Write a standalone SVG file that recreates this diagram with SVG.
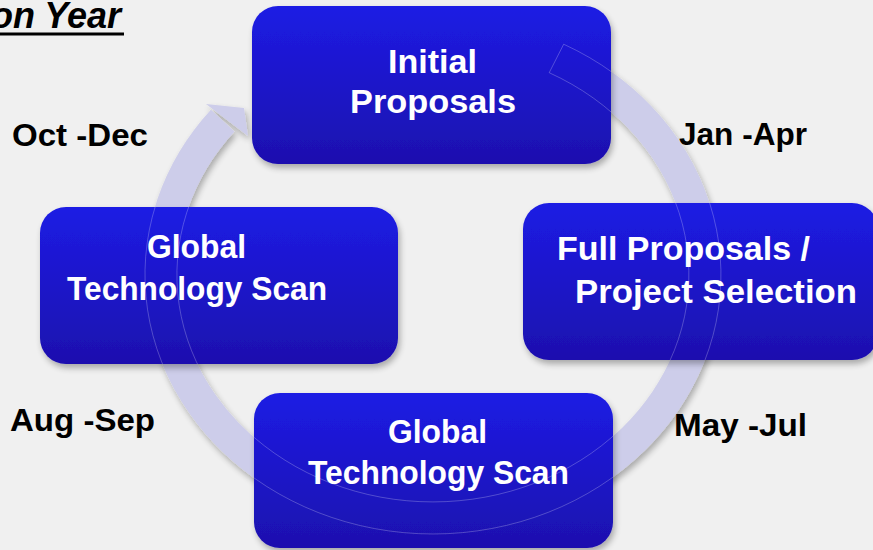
<svg xmlns="http://www.w3.org/2000/svg" width="873" height="550" viewBox="0 0 873 550">
  <defs>
    <linearGradient id="boxGrad" x1="0" y1="0" x2="0" y2="1">
      <stop offset="0" stop-color="#1d1ce4"/>
      <stop offset="1" stop-color="#1a10ae"/>
    </linearGradient>
    <filter id="shadow" x="-10%" y="-10%" width="125%" height="130%">
      <feGaussianBlur in="SourceAlpha" stdDeviation="3"/>
      <feOffset dx="2" dy="4" result="b"/>
      <feComponentTransfer><feFuncA type="linear" slope="0.3"/></feComponentTransfer>
      <feMerge><feMergeNode/><feMergeNode in="SourceGraphic"/></feMerge>
    </filter>
    <clipPath id="boxClip">
      <rect x="252" y="6" width="359" height="158" rx="26"/>
      <rect x="523" y="203" width="355" height="157" rx="26"/>
      <rect x="40" y="207" width="358" height="157" rx="26"/>
      <rect x="254" y="393" width="359" height="155" rx="26"/>
    </clipPath>
    <style>
      .box { fill: url(#boxGrad); filter: url(#shadow); }
      .bt { font-family: "Liberation Sans", Arial, sans-serif; font-weight: bold; font-size: 34px; fill: #ffffff; }
      .lbl { font-family: "Liberation Sans", Arial, sans-serif; font-weight: bold; font-size: 32px; fill: #000000; }
      .ring { fill: none; stroke: #cdcdea; stroke-width: 32; }
      .ringline { fill: none; stroke: #ffffff; stroke-width: 0.8; opacity: 0.3; }
    </style>
  </defs>
  <rect width="873" height="550" fill="#f0f0f0"/>

  <g id="title">
    <text x="-9" y="28" font-family="Liberation Sans, Arial, sans-serif" font-weight="bold" font-style="italic" font-size="36" fill="#000">on Year</text>
    <rect x="0" y="32.5" width="124" height="3" fill="#000"/>
  </g>

  <g id="connectors" filter="url(#shadow)">
    <path class="ring" d="M556.5,58.5 A272,243 0 1 1 222.7,120.7"/>
    <polygon points="206,104 244,108 248,136" fill="#cdcdea"/>
  </g>

  <g id="node-initial">
    <rect class="box" x="252" y="6" width="359" height="158" rx="26"/>
    <text class="bt" x="432.5" y="73" text-anchor="middle" textLength="89" lengthAdjust="spacingAndGlyphs">Initial</text>
    <text class="bt" x="433" y="113" text-anchor="middle" textLength="166" lengthAdjust="spacingAndGlyphs">Proposals</text>
  </g>

  <g id="node-full">
    <rect class="box" x="523" y="203" width="355" height="157" rx="26"/>
    <text class="bt" x="557" y="260" textLength="253" lengthAdjust="spacingAndGlyphs">Full Proposals /</text>
    <text class="bt" x="575" y="303" textLength="282" lengthAdjust="spacingAndGlyphs">Project Selection</text>
  </g>

  <g id="node-scan-left">
    <rect class="box" x="40" y="207" width="358" height="157" rx="26"/>
    <text class="bt" x="147" y="258" textLength="99" lengthAdjust="spacingAndGlyphs">Global</text>
    <text class="bt" x="67" y="300" textLength="260" lengthAdjust="spacingAndGlyphs">Technology Scan</text>
  </g>

  <g id="node-scan-bottom">
    <rect class="box" x="254" y="393" width="359" height="155" rx="26"/>
    <text class="bt" x="388" y="443" textLength="99" lengthAdjust="spacingAndGlyphs">Global</text>
    <text class="bt" x="308" y="484" textLength="261" lengthAdjust="spacingAndGlyphs">Technology Scan</text>
  </g>

  <g id="ring-outline" clip-path="url(#boxClip)">
    <path class="ringline" d="M563.7,44.2 L549.2,72.7"/>
    <path class="ringline" d="M563.7,44.2 A288,259 0 1 1 210.4,110.6"/>
    <path class="ringline" d="M549.2,72.7 A256,227 0 1 1 235.1,130.8"/>
  </g>

  <g id="labels">
    <text class="lbl" x="12" y="146" textLength="136" lengthAdjust="spacingAndGlyphs">Oct -Dec</text>
    <text class="lbl" x="679" y="145" textLength="128" lengthAdjust="spacingAndGlyphs">Jan -Apr</text>
    <text class="lbl" x="10" y="431" textLength="145" lengthAdjust="spacingAndGlyphs">Aug -Sep</text>
    <text class="lbl" x="674" y="436" textLength="133" lengthAdjust="spacingAndGlyphs">May -Jul</text>
  </g>
</svg>
